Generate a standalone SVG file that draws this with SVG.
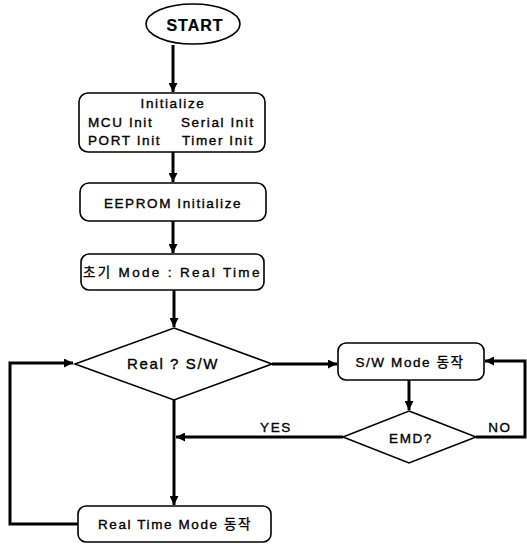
<svg xmlns="http://www.w3.org/2000/svg" width="527" height="544" viewBox="0 0 527 544">
<style>
.box{fill:#fff;stroke:#000;stroke-width:1.6}
.t{font-family:"Liberation Sans","Noto Sans CJK KR",sans-serif;font-size:13.5px;letter-spacing:1.6px;fill:#000;stroke:#000;stroke-width:0.35}
.c{fill:none;stroke:#000;stroke-width:3}
</style>
<defs>
<marker id="ah" markerUnits="userSpaceOnUse" markerWidth="10" markerHeight="9" refX="9" refY="4.5" orient="auto">
<path d="M0,0 L9,4.5 L0,9 Z" fill="#000"/>
</marker>
</defs>
<g id="connectors">
<path class="c" d="M173,45 V92" marker-end="url(#ah)"/>
<path class="c" d="M173,152 V182" marker-end="url(#ah)"/>
<path class="c" d="M173,221 V253" marker-end="url(#ah)"/>
<path class="c" d="M174,290 V327" marker-end="url(#ah)"/>
<path class="c" d="M272,364 H337" marker-end="url(#ah)"/>
<path class="c" d="M409,380 V410" marker-end="url(#ah)"/>
<path class="c" d="M476,437 H525 V361 H485" marker-end="url(#ah)"/>
<path class="c" d="M343,437 H176" marker-end="url(#ah)"/>
<path class="c" d="M174,400 V505" marker-end="url(#ah)"/>
<path class="c" d="M78,524 H10 V363 H73" marker-end="url(#ah)"/>
</g>
<g id="start">
<ellipse class="box" cx="193" cy="24" rx="47" ry="20"/>
<text class="t" x="195" y="31" text-anchor="middle" style="font-size:16px;font-weight:bold;letter-spacing:1px;stroke-width:0.2">START</text>
</g>
<g id="init">
<rect class="box" x="79" y="93" width="186" height="59" rx="9"/>
<text class="t" x="173" y="108" text-anchor="middle">Initialize</text>
<text class="t" x="88" y="127">MCU Init</text>
<text class="t" x="181" y="127">Serial Init</text>
<text class="t" x="88" y="145">PORT Init</text>
<text class="t" x="182" y="145">Timer Init</text>
</g>
<g id="eeprom">
<rect class="box" x="80" y="183" width="186" height="38" rx="9"/>
<text class="t" x="173" y="208" text-anchor="middle">EEPROM Initialize</text>
</g>
<g id="initmode">
<rect class="box" x="81" y="254" width="183" height="36" rx="8"/>
<text class="t" x="83" y="277" textLength="178">초기 Mode : Real Time</text>
</g>
<g id="realsw">
<polygon class="box" points="174,328 272,364 174,400 75,364"/>
<text class="t" x="173" y="369" text-anchor="middle" style="font-size:15px">Real ? S/W</text>
</g>
<g id="swmode">
<rect class="box" x="338" y="343" width="146" height="37" rx="8"/>
<text class="t" x="410" y="367" text-anchor="middle">S/W Mode 동작</text>
</g>
<g id="emd">
<polygon class="box" points="409,411 476,437 409,463 343,437"/>
<text class="t" x="411" y="443" text-anchor="middle">EMD?</text>
</g>
<g id="realtime">
<rect class="box" x="78" y="506" width="193" height="36" rx="8"/>
<text class="t" x="175" y="529" text-anchor="middle">Real Time Mode 동작</text>
</g>
<g id="labels">
<text class="t" x="276" y="432" text-anchor="middle">YES</text>
<text class="t" x="500" y="432" text-anchor="middle">NO</text>
</g>
</svg>
